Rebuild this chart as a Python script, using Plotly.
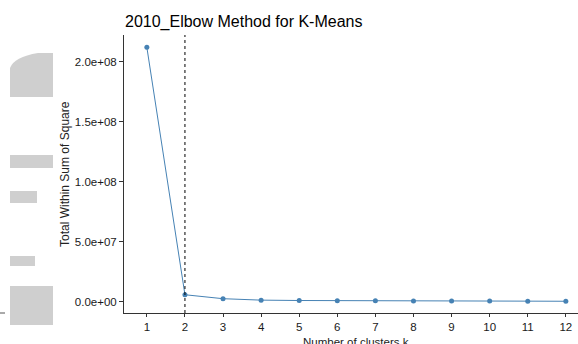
import plotly.graph_objects as go

# ---- data ----
k_values = [1, 2, 3, 4, 5, 6, 7, 8, 9, 10, 11, 12]
wss_values = [2.12e8, 5.8e6, 2.5e6, 1.3e6, 1.0e6, 0.85e6, 0.72e6, 0.62e6, 0.55e6, 0.48e6, 0.42e6, 0.37e6]
optimal_k = 2
y_tick_vals = [0, 5e7, 1e8, 1.5e8, 2e8]
y_tick_text = ["0.0e+00", "5.0e+07", "1.0e+08", "1.5e+08", "2.0e+08"]
title_text = "2010_Elbow Method for K-Means"
x_title = "Number of clusters k"
y_title = "Total Within Sum of Square"

W, H = 578, 344
L, R, T, B = 124, 0, 35, 31
PW, PH = W - L - R, H - T - B

def px(x):
    return (x - L) / PW

def py(y):
    return (H - B - y) / PH

FONT = "Liberation Sans, Arial"

fig = go.Figure()
fig.add_trace(go.Scatter(
    x=k_values, y=wss_values, mode="lines+markers",
    line=dict(color="#4682B4", width=1),
    marker=dict(color="#4682B4", size=5, symbol="circle"),
    showlegend=False, hoverinfo="x+y",
))

fig.add_shape(type="line", xref="x", yref="paper", x0=optimal_k, x1=optimal_k, y0=0, y1=1,
              line=dict(color="black", width=1, dash="3px,3px"))

# grey blocks at the left edge of the picture
grey = "#cfcfcf"
blocks = [(10, 155, 53, 168), (10, 191, 37, 203), (10, 256, 35, 266), (10, 286, 53, 325)]
for x0, y0, x1, y1 in blocks:
    fig.add_shape(type="rect", xref="paper", yref="paper", x0=px(x0), x1=px(x1), y0=py(y1), y1=py(y0),
                  fillcolor=grey, line=dict(width=0), layer="below")
# rounded first block
path = "M {} {} L {} {} L {} {} L {} {} Q {} {} {} {} Z".format(
    px(10), py(97), px(53), py(97), px(53), py(53), px(38), py(53), px(14), py(57), px(10), py(68))
fig.add_shape(type="path", xref="paper", yref="paper", path=path, fillcolor=grey, line=dict(width=0), layer="below")
fig.add_shape(type="line", xref="paper", yref="paper", x0=px(0), x1=px(5), y0=py(313), y1=py(313),
              line=dict(color="#555555", width=1))

fig.add_annotation(text=y_title, xref="paper", yref="paper", x=px(65), y=0.5, textangle=-90,
                   showarrow=False, xanchor="center", yanchor="middle",
                   font=dict(family=FONT, size=12, color="#222222"))
fig.add_annotation(text=x_title, xref="paper", yref="paper", x=px(356), y=py(334),
                   showarrow=False, xanchor="center", yanchor="top",
                   font=dict(family=FONT, size=11.5, color="#222222"))

fig.update_layout(
    width=W, height=H, margin=dict(l=L, r=R, t=T, b=B, pad=0),
    paper_bgcolor="white", plot_bgcolor="white",
    font=dict(family=FONT, size=11, color="#222222"),
    title=dict(text=title_text, x=px(125), xref="paper", xanchor="left", y=1 - 21 / H, yanchor="middle",
               font=dict(family=FONT, size=16, color="black")),
    xaxis=dict(range=[0.4, 0.4 + PW / 38.09], tickmode="array", tickvals=k_values,
               ticktext=[str(k) for k in k_values], showgrid=False, zeroline=False,
               showline=True, linecolor="#333333", linewidth=1, ticks="outside", ticklen=3,
               tickcolor="#333333", tickfont=dict(size=11.5, color="#1a1a1a")),
    yaxis=dict(range=[-9.42e6, 2.2225e8], tickmode="array", tickvals=y_tick_vals, ticktext=y_tick_text,
               showgrid=False, zeroline=False, showline=True, linecolor="#333333", linewidth=1,
               ticks="outside", ticklen=4, tickcolor="#333333", tickfont=dict(size=11.5, color="#1a1a1a")),
)

fig.write_html("out.html")
